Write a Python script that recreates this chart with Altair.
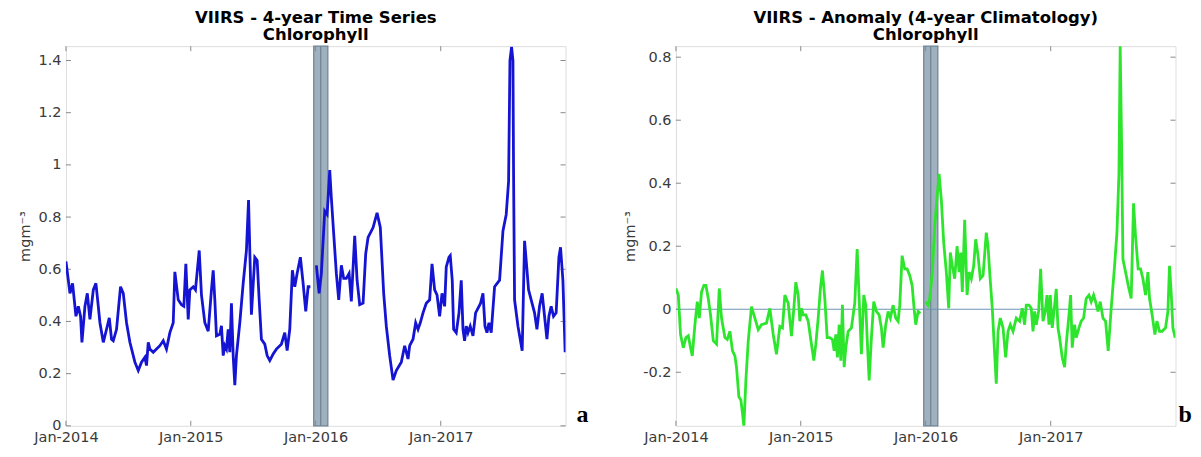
import altair as alt
import pandas as pd

# ---------------- data (time in years since 1 Jan 2014) ----------------
chl_t_a = [0.000, 0.019, 0.032, 0.053, 0.080, 0.099, 0.117, 0.128, 0.152, 0.171, 0.192, 0.219, 0.240,
           0.259, 0.272, 0.299, 0.325, 0.347, 0.365, 0.379, 0.405, 0.437, 0.459, 0.485, 0.512, 0.552,
           0.579, 0.605, 0.632, 0.645, 0.659, 0.672, 0.699, 0.725, 0.752, 0.779, 0.805, 0.832, 0.859,
           0.872, 0.899, 0.925, 0.944, 0.960, 0.979, 0.992, 1.019, 1.037, 1.067, 1.085, 1.112, 1.139,
           1.165, 1.179, 1.192, 1.205, 1.232, 1.245, 1.259, 1.272, 1.285, 1.299, 1.312, 1.325, 1.339,
           1.352, 1.365, 1.392, 1.419, 1.445, 1.462, 1.485, 1.512, 1.531, 1.547, 1.565, 1.592, 1.611,
           1.632, 1.659, 1.685, 1.725, 1.752, 1.771, 1.792, 1.813, 1.832, 1.851, 1.877, 1.899, 1.920,
           1.939, 1.957]
chl_v_a = [0.63, 0.558, 0.508, 0.546, 0.42, 0.458, 0.42, 0.32, 0.458, 0.508, 0.408, 0.521, 0.546,
           0.458, 0.395, 0.32, 0.37, 0.414, 0.332, 0.326, 0.37, 0.533, 0.508, 0.395, 0.32, 0.244,
           0.212, 0.244, 0.263, 0.231, 0.32, 0.294, 0.282, 0.294, 0.307, 0.326, 0.294, 0.357, 0.395,
           0.59, 0.483, 0.464, 0.458, 0.621, 0.408, 0.521, 0.533, 0.521, 0.672, 0.502, 0.395, 0.363,
           0.521, 0.596, 0.483, 0.345, 0.351, 0.383, 0.269, 0.307, 0.294, 0.37, 0.282, 0.47, 0.269,
           0.156, 0.269, 0.395, 0.546, 0.672, 0.865, 0.426, 0.646, 0.634, 0.483, 0.332, 0.313, 0.269,
           0.250, 0.275, 0.294, 0.313, 0.357, 0.288, 0.37, 0.596, 0.533, 0.584, 0.646, 0.546, 0.439,
           0.533, 0.533]
chl_t_b = [2.005, 2.027, 2.045, 2.072, 2.091, 2.112, 2.125, 2.144, 2.165, 2.184, 2.205, 2.224, 2.245,
           2.267, 2.285, 2.312, 2.331, 2.352, 2.379, 2.400, 2.419, 2.459, 2.491, 2.517, 2.544, 2.565,
           2.592, 2.619, 2.645, 2.685, 2.712, 2.739, 2.752, 2.779, 2.800, 2.819, 2.837, 2.859, 2.885,
           2.912, 2.931, 2.952, 2.971, 2.992, 3.011, 3.032, 3.045, 3.067, 3.077, 3.093, 3.104, 3.125,
           3.147, 3.165, 3.179, 3.192, 3.205, 3.219, 3.237, 3.259, 3.280, 3.307, 3.320, 3.339, 3.355,
           3.371, 3.387, 3.405, 3.432, 3.472, 3.499, 3.525, 3.544, 3.555, 3.568, 3.579, 3.584, 3.592,
           3.619, 3.653, 3.672, 3.685, 3.704, 3.725, 3.752, 3.771, 3.792, 3.813, 3.832, 3.851, 3.867,
           3.885, 3.904, 3.925, 3.947, 3.960, 3.979, 3.997]
chl_v_b = [0.615, 0.508, 0.584, 0.823, 0.81, 0.98, 0.873, 0.735, 0.584, 0.483, 0.615, 0.565, 0.565,
           0.584, 0.477, 0.728, 0.558, 0.464, 0.47, 0.659, 0.722, 0.76, 0.816, 0.76, 0.508, 0.382,
           0.269, 0.175, 0.212, 0.244, 0.307, 0.256, 0.307, 0.332, 0.395, 0.37, 0.395, 0.433, 0.47,
           0.483, 0.621, 0.521, 0.502, 0.42, 0.508, 0.458, 0.609, 0.646, 0.652, 0.558, 0.37, 0.357,
           0.433, 0.558, 0.37, 0.326, 0.382, 0.357, 0.382, 0.345, 0.433, 0.458, 0.47, 0.508, 0.382,
           0.357, 0.395, 0.357, 0.533, 0.558, 0.747, 0.81, 0.936, 1.40, 1.452, 1.40, 0.961, 0.483,
           0.382, 0.288, 0.709, 0.634, 0.521, 0.483, 0.433, 0.37, 0.458, 0.508, 0.42, 0.332, 0.42,
           0.458, 0.42, 0.433, 0.646, 0.684, 0.558, 0.282]

anom_t_a = [0.000, 0.019, 0.037, 0.059, 0.080, 0.099, 0.117, 0.131, 0.152, 0.171, 0.187, 0.205, 0.224,
            0.240, 0.259, 0.277, 0.299, 0.325, 0.347, 0.365, 0.392, 0.411, 0.432, 0.453, 0.472, 0.485,
            0.504, 0.520, 0.533, 0.544, 0.560, 0.579, 0.605, 0.632, 0.659, 0.685, 0.725, 0.752, 0.779,
            0.805, 0.832, 0.853, 0.872, 0.899, 0.925, 0.944, 0.960, 0.979, 0.992, 1.005, 1.019, 1.040,
            1.059, 1.085, 1.104, 1.120, 1.139, 1.157, 1.173, 1.192, 1.211, 1.232, 1.253, 1.267, 1.280,
            1.293, 1.307, 1.320, 1.333, 1.347, 1.360, 1.379, 1.405, 1.432, 1.451, 1.467, 1.485, 1.504,
            1.520, 1.531, 1.547, 1.565, 1.584, 1.605, 1.627, 1.645, 1.659, 1.680, 1.699, 1.717, 1.739,
            1.760, 1.779, 1.792, 1.811, 1.832, 1.851, 1.872, 1.891, 1.907, 1.920, 1.939, 1.957]
anom_v_a = [0.066, 0.045, -0.080, -0.122, -0.09, -0.084, -0.122, -0.148, -0.049, 0.024, -0.028, 0.055,
            0.076, 0.076, 0.034, -0.018, -0.1, -0.111, 0.066, -0.028, -0.09, -0.096, -0.07, -0.132,
            -0.148, -0.184, -0.278, -0.288, -0.330, -0.372, -0.226, -0.1, 0.008, -0.028, -0.065,
            -0.049, -0.044, 0.003, -0.08, -0.143, -0.054, -0.059, 0.045, 0.019, -0.085, 0.003, 0.086,
            0.045, -0.038, 0.003, -0.018, -0.018, -0.038, -0.111, -0.163, -0.111, -0.028, 0.066, 0.123,
            0.034, -0.09, -0.09, -0.096, -0.132, -0.08, -0.153, -0.049, -0.163, 0.014, -0.184, -0.122,
            -0.07, -0.059, 0.02, 0.191, 0.034, -0.143, 0.045, 0.013, -0.091, -0.226, -0.091, 0.024,
            -0.007, -0.018, -0.059, -0.122, -0.049, -0.007, -0.028, 0.013, -0.028, -0.038, 0.013, 0.17,
            0.128, 0.128, 0.107, 0.076, 0.003, -0.049, -0.007, -0.013]
anom_t_b = [2.000, 2.019, 2.032, 2.053, 2.072, 2.091, 2.107, 2.125, 2.144, 2.165, 2.184, 2.197, 2.213,
            2.232, 2.251, 2.267, 2.280, 2.293, 2.312, 2.331, 2.347, 2.365, 2.384, 2.400, 2.419, 2.437,
            2.459, 2.485, 2.499, 2.512, 2.533, 2.552, 2.565, 2.579, 2.597, 2.619, 2.640, 2.659, 2.677,
            2.699, 2.725, 2.752, 2.773, 2.792, 2.805, 2.827, 2.845, 2.859, 2.872, 2.885, 2.904, 2.920,
            2.939, 2.957, 2.971, 2.987, 2.997, 3.013, 3.032, 3.045, 3.059, 3.072, 3.093, 3.112, 3.125,
            3.147, 3.160, 3.173, 3.192, 3.205, 3.227, 3.245, 3.264, 3.285, 3.307, 3.325, 3.344, 3.360,
            3.379, 3.397, 3.419, 3.440, 3.461, 3.485, 3.512, 3.531, 3.547, 3.557, 3.568, 3.579, 3.600,
            3.621, 3.645, 3.664, 3.680, 3.701, 3.720, 3.739, 3.760, 3.779, 3.792, 3.813, 3.835, 3.851,
            3.872, 3.893, 3.920, 3.939, 3.952, 3.965, 3.979, 3.997]
anom_v_b = [0.024, 0.013, 0.034, 0.118, 0.263, 0.357, 0.43, 0.347, 0.211, 0.118, 0.003, 0.18, 0.138,
            0.097, 0.2, 0.118, 0.18, 0.055, 0.284, 0.045, 0.118, 0.097, 0.138, 0.222, 0.17, 0.097,
            0.107, 0.243, 0.2, 0.118, 0.003, -0.143, -0.236, -0.07, -0.028, -0.059, -0.153, -0.07,
            -0.049, -0.07, -0.028, -0.038, 0.003, -0.049, 0.013, 0.013, 0.003, -0.07, -0.007, -0.049,
            -0.007, 0.128, -0.038, -0.007, 0.045, -0.049, 0.045, -0.059, 0.013, 0.065, -0.059, -0.09,
            -0.153, -0.184, -0.111, -0.018, 0.045, -0.122, -0.049, -0.09, -0.059, -0.038, -0.028, 0.034,
            0.045, 0.024, 0.045, 0.024, -0.007, 0.024, -0.028, -0.038, -0.132, 0.003, 0.138, 0.243,
            0.43, 0.836, 0.534, 0.159, 0.118, 0.076, 0.034, 0.336, 0.232, 0.128, 0.128, 0.097, 0.045,
            0.118, 0.034, -0.018, -0.08, -0.038, -0.07, -0.07, -0.059, -0.007, 0.138, 0.055, -0.059,
            -0.09]

band_t = [1.984, 2.097]      # shaded period (late Dec 2015 - early Feb 2016)
band_mid_t = [2.040]
x_tick_years = [2014, 2015, 2016, 2017]
chl_y_ticks = [0, 0.2, 0.4, 0.6, 0.8, 1.0, 1.2, 1.4]
anom_y_ticks = [-0.2, 0, 0.2, 0.4, 0.6, 0.8]
chl_domain = [0, 1.455]
anom_domain = [-0.37, 0.835]

titles = [["VIIRS - 4-year Time Series", "Chlorophyll"],
          ["VIIRS - Anomaly (4-year Climatology)", "Chlorophyll"]]
y_title = "mgm⁻³"

# ---------------- helpers ----------------
BASE = pd.Timestamp("2014-01-01")


def to_dates(ts):
    return [(BASE + pd.Timedelta(days=float(t) * 365.25)).strftime("%Y-%m-%dT%H:%M:%S") for t in ts]


def series_df(ta, va, tb, vb):
    return pd.DataFrame({
        "date": to_dates(ta) + to_dates(tb),
        "value": va + vb,
        "seg": ["a"] * len(ta) + ["b"] * len(tb),
    })


W, H = 500, 380
FONT = "DejaVu Sans"
XSCALE = alt.Scale(domain=[alt.DateTime(year=2014, month=1, date=1),
                           alt.DateTime(year=2018, month=1, date=1)])
TICK_COL = "#8a8a8a"
LABEL_COL = "#3a3a3a"


def panel(df, color, ydomain, yticks, title, letter, letter_dx, zero_line):
    ysc = alt.Scale(domain=ydomain, nice=False, zero=False)
    band_df = pd.DataFrame({"start": to_dates([band_t[0]]), "end": to_dates([band_t[1]]),
                            "mid": to_dates(band_mid_t)})
    xtick_df = pd.DataFrame({"d": [f"{y}-01-01T00:00:00" for y in x_tick_years]})
    ytick_df = pd.DataFrame({"v": yticks})

    band = alt.Chart(band_df).mark_rect(fill="#9fb0be", stroke="#6e8293", strokeWidth=1.2).encode(
        x=alt.X("start:T", scale=XSCALE), x2="end:T", y=alt.value(0), y2=alt.value(H))
    mid = alt.Chart(band_df).mark_rule(color="#6e8293", strokeWidth=1.2).encode(
        x=alt.X("mid:T", scale=XSCALE))

    line = alt.Chart(df).mark_line(color=color, strokeWidth=2.8, clip=True).encode(
        x=alt.X("date:T", scale=XSCALE, title=None,
                axis=alt.Axis(values=[alt.DateTime(year=y, month=1, date=1) for y in x_tick_years],
                              format="%b-%Y", labelFontSize=14.5, labelFont=FONT, labelColor=LABEL_COL,
                              ticks=False, domain=False, grid=False, labelPadding=5, labelFlush=False)),
        y=alt.Y("value:Q", scale=ysc, title=y_title,
                axis=alt.Axis(values=yticks, labelExpr="replace(format(datum.value, '~g'), '−', '-')",
                              labelFontSize=14.5, labelFont=FONT, labelColor=LABEL_COL, ticks=False,
                              domain=False, grid=False, labelPadding=5, titleFont=FONT,
                              titleFontSize=14.5, titleFontWeight="normal", titleColor=LABEL_COL,
                              titlePadding=5)),
        detail="seg:N",
    )

    tb = alt.Chart(xtick_df).mark_rule(color=TICK_COL).encode(
        x=alt.X("d:T", scale=XSCALE), y=alt.value(H), y2=alt.value(H - 5))
    tt = alt.Chart(xtick_df).mark_rule(color=TICK_COL).encode(
        x=alt.X("d:T", scale=XSCALE), y=alt.value(0), y2=alt.value(5))
    tl = alt.Chart(ytick_df).mark_rule(color=TICK_COL).encode(
        y=alt.Y("v:Q", scale=ysc), x=alt.value(0), x2=alt.value(5))
    tr = alt.Chart(ytick_df).mark_rule(color=TICK_COL).encode(
        y=alt.Y("v:Q", scale=ysc), x=alt.value(W - 5), x2=alt.value(W))

    lab = alt.Chart(pd.DataFrame({"t": [letter]})).mark_text(
        font="Liberation Serif", fontSize=24, fontWeight="bold", align="left", baseline="bottom",
        color="black").encode(text="t:N", x=alt.value(W + letter_dx), y=alt.value(H + 1))

    layers = [band, mid, tb, tt, tl, tr]
    if zero_line:
        z = alt.Chart(pd.DataFrame({"z": [0]})).mark_rule(color="#6f93b5", strokeWidth=1.2).encode(
            y=alt.Y("z:Q", scale=ysc))
        layers.append(z)
    layers += [line, lab]
    return alt.layer(*layers).properties(
        width=W, height=H,
        title=alt.TitleParams(title, font=FONT, fontSize=16.5, fontWeight="bold", color="black",
                              anchor="middle", offset=2, lineHeight=17.5))


left = panel(series_df(chl_t_a, chl_v_a, chl_t_b, chl_v_b), "#1414d2",
             chl_domain, chl_y_ticks, titles[0], "a", 11, False)
right = panel(series_df(anom_t_a, anom_v_a, anom_t_b, anom_v_b), "#2de52d",
              anom_domain, anom_y_ticks, titles[1], "b", 3, True)

chart = alt.hconcat(left, right, spacing=32.5).properties(
    padding={"left": 9, "top": 0, "right": 0, "bottom": 0}
).configure_view(stroke="#8c8c8c", strokeWidth=1.2).configure(background="white")

chart.save("out.html", embed_options={"renderer": "svg", "actions": False})
